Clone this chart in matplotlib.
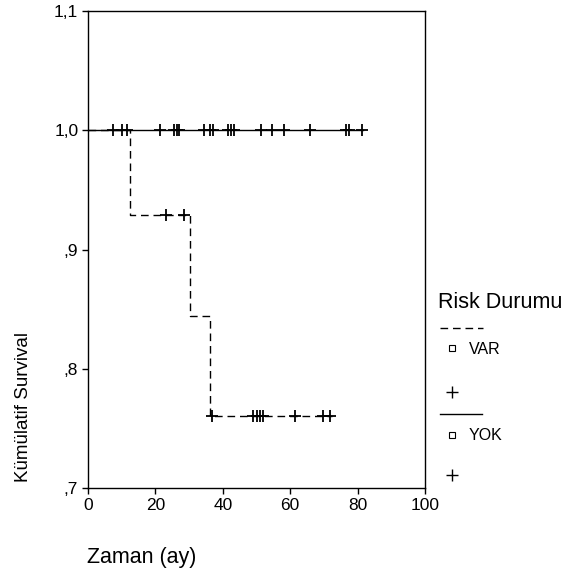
import matplotlib
matplotlib.use("Agg")
import matplotlib.pyplot as plt
from matplotlib.lines import Line2D

plt.rcParams['font.family'] = ['Liberation Sans', 'DejaVu Sans']

# Kaplan-Meier steps (risk group VAR)
var_times = [0, 12.5, 30.3, 36.2, 72.5]
var_surv = [1.0, 0.929, 0.844, 0.760, 0.760]
var_cens_t = [23.1, 28.5, 36.9, 48.9, 50.0, 51.0, 51.8, 61.4, 69.8, 71.8]
var_cens_s = [0.929, 0.929, 0.760, 0.760, 0.760, 0.760, 0.760, 0.760, 0.760, 0.760]

# risk group YOK (no events)
yok_times = [0, 81.5]
yok_surv = [1.0, 1.0]
yok_cens_t = [7.3, 10.2, 11.5, 21.4, 25.5, 26.3, 27.1, 34.4, 36.2, 37.0,
              41.6, 42.4, 43.2, 51.3, 54.5, 58.1, 66.0, 76.6, 77.4, 81.2]

yticks = [0.7, 0.8, 0.9, 1.0, 1.1]
ytick_labels = [',7', ',8', ',9', '1,0', '1,1']
xticks = [0, 20, 40, 60, 80, 100]

DASH = (0, (5.5, 3.5))

W, H = 578, 576
fig = plt.figure(figsize=(W / 100, H / 100), dpi=100)
ax = fig.add_axes([88 / W, 1 - 488 / H, 337 / W, 477 / H])

ax.step(var_times, var_surv, where='post', color='black', lw=1.0,
        linestyle=DASH)
ax.plot(var_cens_t, var_cens_s, linestyle='none', marker='+', ms=8.5,
        mew=1.3, color='black')
ax.step(yok_times, yok_surv, where='post', color='black', lw=1.0)
ax.plot(yok_cens_t, [1.0] * len(yok_cens_t), linestyle='none', marker='+',
        ms=8.5, mew=1.3, color='black')

ax.set_xlim(0, 100)
ax.set_ylim(0.7, 1.1)
ax.set_xticks(xticks)
ax.set_yticks(yticks)
ax.set_yticklabels(ytick_labels)
ax.tick_params(direction='out', length=4, width=1, labelsize=12.5, pad=3)
for s in ax.spines.values():
    s.set_linewidth(1.0)

def fx(px):
    return px / W

def fy(py):
    return 1 - py / H

fig.text(fx(24), fy(407), 'Kümülatif Survival', rotation=90, fontsize=13.5,
         ha='center', va='center')
fig.text(fx(87), fy(558), 'Zaman (ay)', fontsize=15.5, ha='left', va='center')

# legend drawn by hand
fig.text(fx(438), fy(303), 'Risk Durumu', fontsize=15.5, ha='left', va='center')
fig.add_artist(Line2D([fx(440), fx(483)], [fy(328), fy(328)], color='black',
                      lw=1.0, linestyle=DASH))
fig.add_artist(Line2D([fx(451.5)], [fy(348)], marker='s', ms=4.5, mfc='none',
                      mec='black', mew=0.8, linestyle='none'))
fig.text(fx(469), fy(349), 'VAR', fontsize=11.5, ha='left', va='center')
fig.add_artist(Line2D([fx(452)], [fy(392)], marker='+', ms=8, mew=1.0,
                      color='black', linestyle='none'))
fig.add_artist(Line2D([fx(440), fx(482)], [fy(414), fy(414)], color='black',
                      lw=1.0))
fig.add_artist(Line2D([fx(451.5)], [fy(435)], marker='s', ms=4.5, mfc='none',
                      mec='black', mew=0.8, linestyle='none'))
fig.text(fx(469), fy(436), 'YOK', fontsize=11.5, ha='left', va='center')
fig.add_artist(Line2D([fx(452)], [fy(475)], marker='+', ms=8, mew=1.0,
                      color='black', linestyle='none'))

fig.savefig('out.png', dpi=100)
